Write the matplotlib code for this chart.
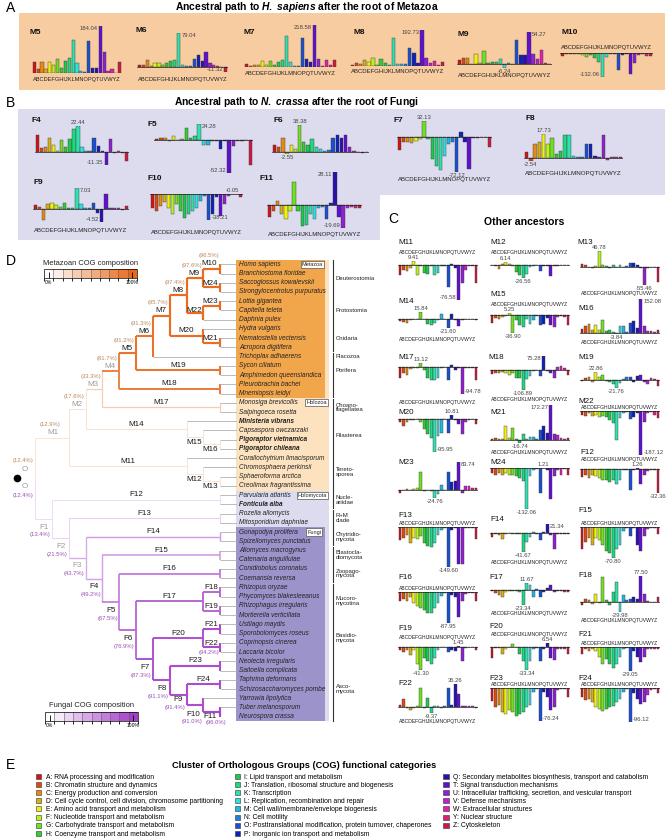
import numpy as np
import matplotlib
matplotlib.use('Agg')
import matplotlib as mpl
import matplotlib.pyplot as plt
from matplotlib.patches import Rectangle, Patch
from matplotlib.colors import LinearSegmentedColormap, ListedColormap, BoundaryNorm

plt.rcParams['font.family'] = ['Liberation Sans', 'DejaVu Sans']
plt.rcParams['mathtext.fontset'] = 'custom'
plt.rcParams['mathtext.rm'] = 'Liberation Sans:bold'
plt.rcParams['mathtext.it'] = 'Liberation Sans:italic:bold'

W, H = 668, 838

# ---------------------------------------------------------------- COG data
cog_letters = 'ABCDEFGHIJKLMNOPQTUVWYZ'
cog_names = [
    'RNA processing and modification',
    'Chromatin structure and dynamics',
    'Energy production and conversion',
    'Cell cycle control, cell division, chromosome partitioning',
    'Amino acid transport and metabolism',
    'Nucleotide transport and metabolism',
    'Carbohydrate transport and metabolism',
    'Coenzyme transport and metabolism',
    'Lipid transport and metabolism',
    'Translation, ribosomal structure and biogenesis',
    'Transcription',
    'Replication, recombination and repair',
    'Cell wall/membrane/envelope biogenesis',
    'Cell motility',
    'Posttranslational modification, protein turnover, chaperones',
    'Inorganic ion transport and metabolism',
    'Secondary metabolites biosynthesis, transport and catabolism',
    'Signal transduction mechanisms',
    'Intracellular trafficking, secretion, and vesicular transport',
    'Defense mechanisms',
    'Extracellular structures',
    'Nuclear structure',
    'Cytoskeleton',
]
cog_colors = ['#d01515', '#e04a10', '#e88a10', '#d8b010', '#f0f010', '#b8f020',
              '#70e020', '#30d030', '#20c850', '#20d880', '#30e0b0', '#30e0e0',
              '#20b8e8', '#2080d8', '#1a50d0', '#1020b8', '#2a10b0', '#6010d0',
              '#9020d0', '#c020d0', '#e020b0', '#e0207a', '#d01840']

# gains / losses per ancestor, order A..Z as in cog_letters
m5 = [43, 17, 43, 17, 43, 30, 54, 20, 46, 59, 131, 41, 7, 3, 125, 21, 20, 184.04, 83, 7, 17, 1, 43]
m6 = [6, 6, 17, 2, 9, 9, 6, 10, 15, 16, 79.04, 5, 2, 2, 19, 27, 15, 36, 10, 4, 2, 0.5, -11.32]
m7 = [17, 5, 12, 12, 30, 9, 30, 9, 26, 35, 163, 26, 5, 5, 149, 44, 26, 218.58, 44, 5, 35, 9, 35]
m8 = [5, 14, 9, 32, 23, 41, 5, 36, 14, 5, 148, 9, 9, 9, 94, 71, 18, 192.73, 41, 14, 27, 5, 23]
m9 = [7, 10, 10, 1, 17, 3, 23, 3, 4, 4, 9, -6.24, 2, 0.5, 41, 16, 16, 54.27, 18, 9, 24, 3, 1]
m10 = [-18, -7, -7, -7, -7, -12, -21, -12, -30, -48, -132.06, -21, -4, -4, -93, -12, -4, -114, -57, -12, -4, -18, -18]

f4 = [15, 3, 4, 12, 6, 1, 10, 4, 11, 20, 22.44, 4, 0.5, 0.5, 12, 5, 0.5, -11.35, 11, -1, 1, -1, -8]
f5 = [0.5, 2, 3, -2, 5, -1, 1, 18, 2, 5, 24.28, -8, -8, -2, -3, -15, -3, -52.32, -10, -3, -2, -1, -40]
f6 = [10, 7, 20, -2.55, 10, 5, 38.38, 15, 10, 18, 7, 5, 2, 3, 20, 24, 20, 24, 7, 1, 0.5, -0.5, 0.3]
f7 = [-28, -10, -10, -12, -8, -5, 32.13, -5, -45, -60, -68, -40, -15, -10, -72.12, 10, -10, -65, -3, -2, -1, -1, -20]
f8 = [4, -2.54, 10, 12, 17.73, 10, 15, 3, 5, 17, 17, 1, 0.5, 0.5, 10, 10, 1, 0.5, 17, -2, 0.5, 0.5, 0.5]
f9 = [1.2, 0.6, -4.0, 1.5, 2, 1.2, 0.5, 2, 0.2, 0.3, 7.03, 1.5, 0.2, 0.3, 2, -1.5, -4.52, 5, 0.2, 0.1, 0.3, -0.3, 1]
f10 = [-20, -25, -18, -12, -20, -30, -15, -25, -35, -30, -25, -20, -10, -3, -38.21, -30, -5, -32, -15, -3, -0.05, -0.5, -5]
f11 = [-10, -5, 3, -8, -12, -5, 20, -5, -18, -17, -8, -12, -3, -2, -12, 2, 28.11, -10, -19.69, -3, -2, -3, -3]

m11 = [-21, -10, -13, -6, 9.41, -21, -2, -17, -19, -2, -21, -17, -2, -2, -47, 3, -5, -76.58, -40, -10, -2, -2, -40]
m12 = [-1, -2, -8, 2, 6.14, 2, -3, -15, -20, -26.56, -18, -5, -2, -1, -12, -2, -3, -22, -2, -2, -1, -1, -1]
m13 = [8, 5, -2, -5, 3, 46.78, 5, 3, -3, 4, -2, 4, -2, 2, 12, 12, 5, -3, -55.46, -3, -1, -1, -45]
m14 = [-5, -8, -10, -3, -1, 0.5, 15.84, -1, -12, -15, -10, -2, 10, -1, -21.60, 12, -3, -18, -2, -1, -1, -1, -3]
m15 = [-15, -5, -7, -4, -2, 5.25, -36.90, -10, -20, -25, -8, -18, -10, -1, -20, -18, -5, -20, -25, -3, -2, -3, -20]
m16 = [19, 30, 40, 15, 35, 15, 59, 10, 15, 3, -3.84, 30, 30, 5, 45, 55, 25, 152.08, 30, 10, 8, 5, 15]
m17 = [-40, -20, -30, -8, -5, -3, 13.12, -10, -40, -45, -45, -40, -5, -2, -45, 5, -10, -5, -94.78, -5, -3, -3, -45]
m18 = [-20, -15, -15, -10, -18, -25, -15, -40, -45, -106.89, -50, -30, -5, -2, -30, 75.28, -3, -15, -42, 15, 20, 10, -25]
m19 = [-3, 5, 8, -5, 22.86, 10, 15, -3, -5, -10, -21.76, -8, 3, 8, 10, -5, 12, 15, -5, -10, 5, 3, -15]
m20 = [-10, -20, -10, -5, -5, -2, -10, -30, -45, -55, -95.95, -50, -40, -2, -40, 10.81, -5, -15, -45, -10, -3, -2, -15]
m21 = [3, 10, 5, 3, 70, 10, 60, 5, -16.74, 30, 5, 15, 15, 5, 50, 70, 35, 172.27, 30, 25, 10, 3, 10]
m22 = [-15, -20, -10, -20, -15, -25, -20, -25, -40, -50, -124, -30, -10, -5, -35, -25, -10, -187.12, -45, -10, -5, -15, -30]
m23 = [-10, -2, 2, 0.5, 3, 5, 54, -5, -2, -3, -24.76, -12, 14, -1, 55, 22, 25, 83.74, -10, 12, 10, 5, 6]
m24 = [-15, -20, -15, -20, -15, -20, -20, -25, -30, -40, -132.06, -25, -5, -2, -80, 1.21, -5, -100, -25, -5, -20, -3, -20]
f12 = [-11, -8, -12, -8, -10, -12, -15, -15, -18, -15, -20, -15, -2, -1, -28, -1, 1.26, -20, -8, -3, -1, -1, -32.36]
f13 = [-50, -40, -30, -60, -40, -45, -35, -60, -70, -75, -60, -30, -10, -3, -149.60, -10, -5, -140, -140, -5, -3, -2, -45]
f14 = [-8, -1, -3, -12, -1, 1, -2, -1, -1, -41.67, -20, -8, 3, -1, -15, 3, 21.34, -3, -35, -1, -1, -2, -2]
f15 = [-50, -35, -25, -40, -25, -30, -40, -55, -60, -70.80, -50, -40, -10, -3, -20, -3, -40, -55, -20, -5, -3, -2, -15]
f16 = [-25, -20, -25, -15, -30, -40, -45, -50, -60, -60, -45, -30, -10, -2, -87.95, -8, -15, -70, -25, -5, -3, -2, -25]
f17 = [-1, -5, -8, -10, -2, -1, -1, -1, -3, -23.34, 11.67, 8, -10, 2, -10, -3, 3, 8, -3, -1, -1, -2, -2]
f18 = [-10, 10, 5, -5, 25, -2, 75, 5, -10, 30, 60, -29.98, 20, 5, 10, 15, 10, 77.50, 25, 2, 1, 1, 15]
f19 = [-5, -10, -5, -15, -5, -30, -41.30, -20, -25, -30, -20, -5, -1, -1, -10, -5, -8, 1.45, -25, -2, -1, -1, -5]
f20 = [-15, -1, -1, -10, -2, 1, 5, 1, -10, -20, -33.34, -20, -2, -1, -20, -2, 6.54, -15, -18, -3, -2, -2, -10]
f21 = [-8, -3, -5, -3, -5, -12, -20, -15, -20, -25, -20, -12, -3, -1, -29.05, -5, -12, -18, -12, -3, -2, -2, -3]
f22 = [3, 12, -2, -5, -2, 1, 30, -2, 15, -9.37, 1, 1, -2, 1, 30, 3, 36.26, 20, 1, 2, 1, 1, -1]
f23 = [-30, -45, -40, -55, -60, -50, -55, -65, -60, -55, -45, -40, -10, -3, -76.24, -10, -20, -50, -45, -5, -3, -2, -20]
f24 = [-25, -35, -30, -40, -55, -60, -65, -60, -55, -50, -40, -30, -10, -3, -96.12, -15, -30, -45, -40, -20, -5, -2, -15]

path_metazoa = [('M5', m5), ('M6', m6), ('M7', m7), ('M8', m8), ('M9', m9), ('M10', m10)]
path_fungi = [('F4', f4), ('F5', f5), ('F6', f6), ('F7', f7), ('F8', f8),
              ('F9', f9), ('F10', f10), ('F11', f11)]
other_anc = [('M11', m11), ('M12', m12), ('M13', m13), ('M14', m14), ('M15', m15),
             ('M16', m16), ('M17', m17), ('M18', m18), ('M19', m19), ('M20', m20),
             ('M21', m21), ('M22', m22), ('M23', m23), ('M24', m24), ('F12', f12),
             ('F13', f13), ('F14', f14), ('F15', f15), ('F16', f16), ('F17', f17),
             ('F18', f18), ('F19', f19), ('F20', f20), ('F21', f21), ('F22', f22),
             ('F23', f23), ('F24', f24)]

# ---------------------------------------------------------------- tree data (built bottom-up)
t_M10 = ('M10', 11, ['Homo sapiens', 'Branchiostoma floridae'])
t_M24 = ('M24', 11, ['Saccoglossus kowalevskii', 'Strongylocentrotus purpuratus'])
t_M9 = ('M9', 10, [t_M10, t_M24])
t_M23 = ('M23', 11, ['Lottia gigantea', 'Capitella teleta'])
t_M22 = ('M22', 10, [t_M23, 'Daphnia pulex'])
t_M8 = ('M8', 9, [t_M9, t_M22])
t_M21 = ('M21', 11, ['Nematostella vectensis', 'Acropora digitifera'])
t_M20 = ('M20', 10, ['Hydra vulgaris', t_M21])
t_M7 = ('M7', 8, [t_M8, t_M20])
t_M6 = ('M6', 7, [t_M7, 'Trichoplax adhaerens'])
t_M19 = ('M19', 11, ['Sycon ciliatum', 'Amphimedon queenslandica'])
t_M5 = ('M5', 6, [t_M6, t_M19])
t_M18 = ('M18', 11, ['Pleurobrachia bachei', 'Mnemiopsis leidyi'])
t_M4 = ('M4', 5, [t_M5, t_M18])
t_M17 = ('M17', 11, ['Monosiga brevicollis', 'Salpingoeca rosetta'])
t_M3 = ('M3', 4, [t_M4, t_M17])
t_M16 = ('M16', 11, ['Pigoraptor vietnamica', 'Pigoraptor chileana'])
t_M15 = ('M15', 10, ['Capsaspora owczarzaki', t_M16])
t_M14 = ('M14', 9, ['Ministeria vibrans', t_M15])
t_M2 = ('M2', 3, [t_M3, t_M14])
t_M13 = ('M13', 11, ['Sphaeroforma arctica', 'Creolimax fragrantissima'])
t_M12 = ('M12', 10, ['Chromosphaera perkinsii', t_M13])
t_M11 = ('M11', 9, ['Corallochytrium limacisporum', t_M12])
t_M1 = ('M1', 2, [t_M2, t_M11])

t_F11 = ('F11', 11, ['Tuber melanosporum', 'Neurospora crassa'])
t_F10 = ('F10', 10, ['Yarrowia lipolytica', t_F11])
t_F24 = ('F24', 11, ['Taphrina deformans', 'Schizosaccharomyces pombe'])
t_F9 = ('F9', 9, [t_F24, t_F10])
t_F23 = ('F23', 11, ['Neolecta irregularis', 'Saitoella complicata'])
t_F8 = ('F8', 8, [t_F23, t_F9])
t_F21 = ('F21', 11, ['Ustilago maydis', 'Sporobolomyces roseus'])
t_F22 = ('F22', 11, ['Coprinopsis cinerea', 'Laccaria bicolor'])
t_F20 = ('F20', 10, [t_F21, t_F22])
t_F7 = ('F7', 7, [t_F20, t_F8])
t_F18 = ('F18', 11, ['Rhizopus oryzae', 'Phycomyces blakesleeanus'])
t_F19 = ('F19', 11, ['Rhizophagus irregularis', 'Mortierella verticillata'])
t_F17 = ('F17', 10, [t_F18, t_F19])
t_F6 = ('F6', 6, [t_F17, t_F7])
t_F16 = ('F16', 11, ['Conidiobolus coronatus', 'Coemansia reversa'])
t_F5 = ('F5', 5, [t_F16, t_F6])
t_F15 = ('F15', 11, ['Allomyces macrogynus', 'Catenaria anguillulae'])
t_F4 = ('F4', 4, [t_F15, t_F5])
t_F14 = ('F14', 11, ['Gonapodya prolifera', 'Spizellomyces punctatus'])
t_F3 = ('F3', 3, [t_F14, t_F4])
t_F13 = ('F13', 11, ['Rozella allomycis', 'Mitosporidium daphniae'])
t_F2 = ('F2', 2, [t_F13, t_F3])
t_F12 = ('F12', 11, ['Parvularia atlantis', 'Fonticula alba'])
t_F1 = ('F1', 1, [t_F12, t_F2])
tree = ('O', 0, [t_M1, t_F1])

composition = {'O': 12.4, 'M1': 12.9, 'M2': 17.6, 'M3': 33.3, 'M4': 81.7, 'M5': 91.2, 'M6': 91.3,
               'M7': 95.7, 'M8': 97.4, 'M9': 97.6, 'M10': 96.5, 'M11': 15, 'M12': 15, 'M13': 15,
               'M14': 20, 'M15': 20, 'M16': 20, 'M17': 35, 'M18': 85, 'M19': 90, 'M20': 95,
               'M21': 95, 'M22': 97, 'M23': 97, 'M24': 97,
               'F1': 13.4, 'F2': 21.5, 'F3': 43.7, 'F4': 49.2, 'F5': 67.5, 'F6': 76.9, 'F7': 87.3,
               'F8': 91.1, 'F9': 91.4, 'F10': 91.0, 'F11': 96.0, 'F12': 15, 'F13': 25, 'F14': 50,
               'F15': 55, 'F16': 70, 'F17': 80, 'F18': 80, 'F19': 80, 'F20': 88, 'F21': 92,
               'F22': 94.2, 'F23': 92, 'F24': 92}
shown_pct = ['M1', 'M2', 'M3', 'M4', 'M5', 'M6', 'M7', 'M8', 'M9', 'M10',
             'F1', 'F2', 'F3', 'F4', 'F5', 'F6', 'F7', 'F8', 'F9', 'F10', 'F11', 'F22']
bold_species = ['Ministeria vibrans', 'Pigoraptor vietnamica', 'Pigoraptor chileana', 'Fonticula alba']
clades = [('Deuterostomia', 0, 3), ('Protostomia', 4, 6), ('Cnidaria', 7, 9), ('Placozoa', 10, 10),
          ('Porifera', 11, 12), ('', 13, 14), ('Choano-\nflagellatea', 15, 16), ('Filasterea', 17, 20),
          ('Tereto-\nsporea', 21, 24), ('Nucle-\nariidae', 25, 26), ('R+M\nclade', 27, 28),
          ('Chytridio-\nmycota', 29, 30), ('Blastocla-\ndiomycota', 31, 32), ('Zoopago-\nmycota', 33, 34),
          ('Mucoro-\nmycotina', 35, 38), ('Basidio-\nmycota', 39, 42), ('Asco-\nmycota', 43, 49)]

# ---------------------------------------------------------------- layout (pixels)
# name: (x0, x1, y_top, y_bottom, letters_y, name_x, name_y)
layout = {
    'M5': (32, 122, 26, 73, 79, 30, 33), 'M6': (137, 228, 33, 72, 79, 135, 31),
    'M7': (244, 337, 25, 67, 73, 243, 33), 'M8': (350, 445, 30, 66, 72, 353, 33),
    'M9': (457, 552, 32, 68, 76, 457, 34), 'M10': (560, 653, 53, 77, 47, 562, 33),
    'F4': (35, 129, 126, 165, None, 32, 120), 'F5': (154, 253, 124, 173, None, 147, 125),
    'F6': (272, 369, 125, 154, None, 273, 120), 'F7': (397, 492, 121, 172, 180, 393, 120),
    'F8': (524, 623, 134, 161, 173, 525, 118), 'F9': (33, 129, 188, 222, 230, 33, 182),
    'F10': (150, 243, 194, 220, 232, 147, 178), 'F11': (267, 362, 172, 228, 234, 259, 178),
    'M11': (398, 478, 261, 300, 252, 398, 242), 'M12': (490, 570, 262, 278, 252, 490, 242),
    'M13': (580, 660, 251, 285, 293, 577, 242), 'M14': (398, 478, 312, 328, 339, 398, 301),
    'M15': (490, 570, 313, 333, 304, 490, 294), 'M16': (580, 660, 299, 334, 342, 578, 308),
    'M17': (398, 478, 363, 394, 402, 398, 357), 'M18': (490, 570, 356, 390, 399, 488, 357),
    'M19': (580, 660, 372, 388, None, 578, 357), 'M20': (398, 478, 415, 452, None, 398, 412),
    'M21': (490, 570, 405, 443, 452, 490, 412), 'M22': (580, 660, 411, 455, 407, 578, 401),
    'M23': (398, 478, 462, 498, None, 398, 462), 'M24': (490, 570, 468, 509, None, 490, 462),
    'F12': (580, 660, 468, 493, 459, 580, 452), 'F13': (398, 478, 527, 567, 523, 398, 515),
    'F14': (490, 570, 524, 552, 562, 490, 519), 'F15': (580, 660, 527, 558, 523, 578, 510),
    'F16': (398, 478, 592, 623, 588, 398, 577), 'F17': (490, 570, 583, 605, 613, 489, 577),
    'F18': (580, 660, 576, 612, 620, 578, 575), 'F19': (398, 478, 646, 670, 637, 398, 628),
    'F20': (490, 570, 643, 670, 634, 489, 626), 'F21': (580, 660, 647, 671, 643, 578, 634),
    'F22': (398, 478, 684, 713, 721, 398, 683), 'F23': (490, 570, 688, 721, 684, 489, 678),
    'F24': (580, 660, 688, 722, 684, 578, 678),
}
# where the max / min value labels sit: c = centred, L = left of bar, R = right of bar
label_side = {'M5': ('L', 'c'), 'M6': ('R', 'L'), 'M7': ('L', 'c'), 'M8': ('L', 'c'),
              'M9': ('R', 'c'), 'M10': ('c', 'L'), 'F4': ('c', 'L'), 'F5': ('R', 'L'),
              'F9': ('R', 'L'), 'F10': ('c', 'R'), 'F11': ('L', 'L'), 'M11': ('c', 'L'),
              'M16': ('R', 'c'), 'M17': ('c', 'R'), 'M18': ('L', 'c'), 'M20': ('c', 'R'),
              'M21': ('L', 'c'), 'M22': ('c', 'R'), 'M23': ('R', 'c'), 'F14': ('R', 'c'),
              'F23': ('c', 'R'), 'F24': ('c', 'R')}

fig = plt.figure(figsize=(W / 100, H / 100), dpi=100)
bg = fig.add_axes([0, 0, 1, 1], zorder=0)
bg.set_xlim(0, W)
bg.set_ylim(H, 0)
bg.axis('off')

# panel backgrounds
bg.add_patch(Rectangle((19, 13), 646, 77, fc='#f7cca0', ec='none'))
bg.add_patch(Rectangle((18, 109), 647, 86, fc='#dcdcee', ec='none'))
bg.add_patch(Rectangle((18, 194), 362, 46, fc='#dcdcee', ec='none'))

for letter, (x, y) in {'A': (6, 8), 'B': (6, 103), 'C': (388, 219), 'D': (6, 261), 'E': (6, 765)}.items():
    bg.text(x, y, letter, fontsize=10, ha='left', va='center')
bg.text(307, 7, r'Ancestral path to $\it{H.\ sapiens}$ after the root of Metazoa',
        fontsize=7.4, weight='bold', ha='center', va='center')
bg.text(296, 102, r'Ancestral path to $\it{N.\ crassa}$ after the root of Fungi',
        fontsize=7.4, weight='bold', ha='center', va='center')
bg.text(524, 222, 'Other ancestors', fontsize=7.6, weight='bold', ha='center', va='center')
bg.text(304, 765, 'Cluster of Orthologous Groups (COG) functional categories',
        fontsize=6.7, weight='bold', ha='center', va='center')


def value_label(ax, i, val, side, top):
    kw = dict(textcoords='offset points', fontsize=4.2, color='#444444', annotation_clip=False)
    txt = f'{val:.2f}'
    if side == 'c':
        ax.annotate(txt, (i, val), xytext=(0, 0.8 if top else -0.8),
                    ha='center', va='bottom' if top else 'top', **kw)
    elif side == 'L':
        ax.annotate(txt, (i - 0.5, val), xytext=(-0.6, 0),
                    ha='right', va='top' if top else 'bottom', **kw)
    else:
        ax.annotate(txt, (i + 0.5, val), xytext=(0.6, 0),
                    ha='left', va='top' if top else 'bottom', **kw)


def mini_chart(name, vals, in_c):
    x0, x1, yt, yb, ly, nx, ny = layout[name]
    ax = fig.add_axes([x0 / W, 1 - yb / H, (x1 - x0) / W, (yb - yt) / H], zorder=2)
    v = np.asarray(vals, dtype=float)
    hi, lo = max(v.max(), 0), min(v.min(), 0)
    ax.bar(np.arange(len(v)), v, width=0.82, color=cog_colors, edgecolor='#3a3a3a', linewidth=0.3)
    ax.axhline(0, color='#202020', lw=0.5)
    ax.set_xlim(-0.6, len(v) - 0.4)
    ax.set_ylim(lo, hi)
    ax.axis('off')
    s_max, s_min = label_side.get(name, ('c', 'c'))
    if v.max() > 0 or name == 'F10':
        value_label(ax, int(v.argmax()), v.max(), s_max, True)
    if v.min() < 0:
        value_label(ax, int(v.argmin()), v.min(), s_min, False)
    if ly is not None:
        bg.text((x0 + x1) / 2, ly, cog_letters, fontsize=(x1 - x0) / 22.0,
                ha='center', va='center', color='#222222')
    bg.text(nx, ny, name, fontsize=5.8 if in_c else 6.0, weight='normal' if in_c else 'bold',
            ha='left', va='center', color='#111111')


for name, vals in path_metazoa + path_fungi:
    mini_chart(name, vals, False)
for name, vals in other_anc:
    mini_chart(name, vals, True)

# ---------------------------------------------------------------- tree (panel D)
cm_m = LinearSegmentedColormap.from_list('mz', ['#ffffff', '#e8671a'])
cm_f = LinearSegmentedColormap.from_list('fg', ['#ffffff', '#a43ec8'])

tx = fig.add_axes([35 / W, 1 - 716.7 / H, (237 - 35) / W, (716.7 - 264.3) / H], zorder=1)
tx.set_xlim(0, 12)
tx.set_ylim(49, 0)
tx.axis('off')

pos = {}
leaves = []
parent_of = {}


def place(node):
    if isinstance(node, str):
        leaves.append(node)
        return len(leaves) - 1
    name, lev, kids = node
    ys = []
    for k in kids:
        if not isinstance(k, str):
            parent_of[k[0]] = name
        ys.append(place(k))
    pos[name] = (lev, (ys[0] + ys[-1]) / 2, ys[0], ys[-1])
    return pos[name][1]


place(tree)


def branch_color(name):
    p = composition[name] / 100
    cm = cm_f if name.startswith('F') else cm_m
    return cm(max(p, 0.2)), 0.5 + 1.1 * p


def draw(node, parent_x):
    if isinstance(node, str):
        r = leaves.index(node)
        tx.plot([parent_x, 12], [r, r], color='#b0b0b0', lw=0.6, solid_capstyle='butt')
        return
    name, lev, kids = node
    x, y, y0, y1 = pos[name]
    c, lw = branch_color(name)
    tx.plot([parent_x, x], [y, y], color=c, lw=lw, solid_capstyle='butt')
    tx.plot([x, x], [y0, y1], color=c, lw=lw, solid_capstyle='butt')
    for k in kids:
        draw(k, x)


root_x, root_y, _, _ = pos['O']
for kid in tree[2]:
    ky = pos[kid[0]][1]
    c, lw = branch_color(kid[0])
    tx.plot([root_x, root_x], [root_y, ky], color=c, lw=lw, solid_capstyle='butt')
    draw(kid, root_x)
tx.plot([-1.07], [root_y], 'o', color='black', ms=4.5, clip_on=False)

# node labels
grey_nodes = ['M1', 'M2', 'M3', 'M4', 'F1', 'F2', 'F3']
branch_lab = ['M11', 'M14', 'M17', 'M18', 'M19', 'M20', 'F12', 'F13', 'F14', 'F15', 'F16', 'F17',
              'F20', 'F23', 'F24']
up_lab = ['M21', 'M23', 'M24', 'F18', 'F19', 'F21', 'F22']
down_lab = ['M12', 'M13', 'M15', 'M16']
off_special = {'M1': (-0.6, -0.62), 'F9': (-0.2, 0.5), 'F10': (-0.2, 0.97), 'F11': (-0.2, 0.5),
               'M22': (-0.1, -0.2)}
pct_off = {'F11': (0.55, 0.65)}

for name, (x, y, y0, y1) in pos.items():
    if name == 'O':
        continue
    col = '#9a9a9a' if name in grey_nodes else '#1a1a1a'
    pcol = '#9b4db5' if name.startswith('F') else '#b8875c'
    if name in branch_lab:
        mid = (pos[parent_of[name]][0] + x) / 2
        tx.text(mid, y - 0.55, name, fontsize=5.8, ha='center', va='center', color=col)
        continue
    if name in up_lab:
        lx, ly_ = x - 0.1, y - 0.45
    elif name in down_lab:
        lx, ly_ = x - 0.1, y + 0.55
    elif name in off_special:
        lx, ly_ = x + off_special[name][0], y + off_special[name][1]
    elif name.startswith('M'):
        lx, ly_ = x - 0.2, y - 0.55
    else:
        lx, ly_ = x - 0.2, y + 0.9
    tx.text(lx, ly_, name, fontsize=5.8, ha='right', va='center', color=col, clip_on=False)
    if name in shown_pct:
        if name == 'F22':
            tx.text(x - 0.05, y + 0.6, f'({composition[name]:.1f}%)', fontsize=4.2,
                    ha='right', va='center', color=pcol, clip_on=False)
        else:
            dx, dy = pct_off.get(name, (0.12, -0.85 if name.startswith('M') else 0.85))
            tx.text(lx + dx, ly_ + dy, f'({composition[name]:.1f}%)', fontsize=4.2,
                    ha='right', va='center', color=pcol, clip_on=False)

for sgn, pc, yoff in [(-1, '#b8875c', -1.0), (1, '#9b4db5', 0.85)]:
    tx.text(-0.6, root_y + yoff, 'O', fontsize=5.8, ha='center', va='center', color='#9a9a9a', clip_on=False)
    tx.text(-0.7, root_y + yoff + sgn * 0.97, f'({composition["O"]:.1f}%)', fontsize=4.2,
            ha='center', va='center', color=pc, clip_on=False)

# species boxes
box_spec = [(-0.5, 24.5, 17.47, '#fde2bf'), (-0.5, 14.5, 17.23, '#f2a64c'),
            (24.5, 49.5, 17.47, '#dcdcee'), (28.5, 49.5, 17.23, '#9d93cb')]
for r0, r1, xr, fc in box_spec:
    tx.add_patch(Rectangle((11.95, r0), xr - 11.95, r1 - r0, fc=fc, ec='none', zorder=0, clip_on=False))
for lab, r, xr in [('Metazoa', 0, 17.1), ('Holozoa', 15, 17.35), ('Holomycota', 25, 17.35), ('Fungi', 29, 17.0)]:
    tx.text(xr, r, lab, fontsize=4.0, ha='right', va='center', color='#222222', clip_on=False,
            bbox=dict(boxstyle='square,pad=0.2', fc='white', ec='#555555', lw=0.5))

for r, sp in enumerate(leaves):
    tx.text(12.12, r, sp, fontsize=4.7, style='italic',
            weight='bold' if sp in bold_species else 'normal',
            ha='left', va='center', color='#222222', clip_on=False)

for lab, r0, r1 in clades:
    tx.plot([17.68, 17.68], [r0 - 0.42, r1 + 0.42], color='#333333', lw=0.8, clip_on=False)
    tx.text(17.86, (r0 + r1) / 2, lab, fontsize=4.3, ha='left', va='center',
            linespacing=0.95, color='#222222', clip_on=False)


def comp_bar(x0, x1, y0, y1, cmap, title, ty):
    cax = fig.add_axes([x0 / W, 1 - y1 / H, (x1 - x0) / W, (y1 - y0) / H], zorder=2)
    cols = cmap(np.linspace(0, 1, 10))
    cb = mpl.colorbar.ColorbarBase(cax, cmap=ListedColormap(cols), norm=BoundaryNorm(np.linspace(0, 1, 11), 10),
                                   orientation='horizontal', drawedges=True)
    cb.outline.set_linewidth(0.5)
    cb.dividers.set_linewidth(0.4)
    cb.dividers.set_color('#666666')
    cb.set_ticks([0.05, 0.95])
    cb.set_ticklabels(['0%', '100%'])
    cax.tick_params(direction='in', length=4, width=0.6, labelsize=3.6, pad=1.5)
    bg.text((x0 + x1) / 2, ty, title, fontsize=5.4, ha='center', va='center', color='#222222')


comp_bar(44, 137, 269, 278, cm_m, 'Metazoan COG composition', 263)
comp_bar(45, 138, 712, 721, cm_f, 'Fungal COG composition', 705)

# ---------------------------------------------------------------- legend (panel E)
handles = [Patch(facecolor=c, edgecolor='#333333', lw=0.4) for c in cog_colors]
labels = [f'{l}: {n}' for l, n in zip(cog_letters, cog_names)]
fig.legend(handles, labels, loc='upper left', bbox_to_anchor=(36 / W, 1 - 774 / H), ncol=3,
           frameon=False, fontsize=4.85, handlelength=0.75, handleheight=0.75, handletextpad=0.7,
           labelspacing=0.16, columnspacing=1.75, borderaxespad=0, borderpad=0)

fig.savefig('out.png', dpi=100)
